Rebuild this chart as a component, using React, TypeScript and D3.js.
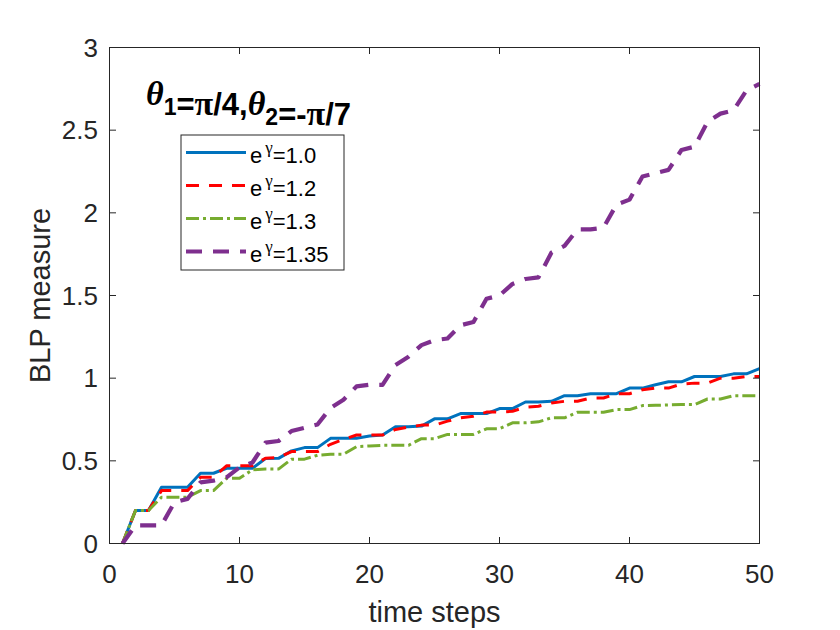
import { useEffect, useRef } from 'react'
import * as d3 from 'd3'

// time steps 1..50
const steps = d3.range(1, 51)

const seriesNames = ['1.0', '1.2', '1.3', '1.35']

const blp10 = [0, 0.2, 0.2, 0.34, 0.34, 0.34, 0.425, 0.425, 0.455, 0.455, 0.455, 0.514, 0.515, 0.56, 0.58, 0.58, 0.636, 0.636, 0.636, 0.65, 0.656, 0.706, 0.706, 0.71, 0.754, 0.754, 0.786, 0.786, 0.786, 0.816, 0.816, 0.856, 0.856, 0.86, 0.894, 0.894, 0.906, 0.906, 0.906, 0.94, 0.94, 0.96, 0.978, 0.978, 1.01, 1.01, 1.01, 1.026, 1.026, 1.058]
const blp12 = [0, 0.2, 0.2, 0.32, 0.32, 0.32, 0.4, 0.4, 0.47, 0.47, 0.47, 0.516, 0.52, 0.556, 0.556, 0.556, 0.6, 0.63, 0.656, 0.656, 0.656, 0.69, 0.705, 0.716, 0.716, 0.74, 0.76, 0.77, 0.795, 0.795, 0.8, 0.824, 0.83, 0.85, 0.86, 0.86, 0.88, 0.88, 0.906, 0.906, 0.93, 0.94, 0.94, 0.965, 0.97, 0.97, 1.0, 1.0, 1.01, 1.01]
const blp13 = [0, 0.2, 0.2, 0.28, 0.28, 0.28, 0.32, 0.32, 0.394, 0.394, 0.446, 0.45, 0.45, 0.51, 0.51, 0.534, 0.54, 0.54, 0.586, 0.59, 0.594, 0.594, 0.594, 0.634, 0.634, 0.66, 0.66, 0.66, 0.694, 0.694, 0.73, 0.73, 0.736, 0.76, 0.76, 0.794, 0.794, 0.794, 0.81, 0.81, 0.834, 0.836, 0.838, 0.84, 0.84, 0.874, 0.874, 0.894, 0.894, 0.894]
const blp135 = [0, 0.11, 0.11, 0.11, 0.25, 0.27, 0.37, 0.38, 0.4, 0.46, 0.49, 0.61, 0.62, 0.68, 0.7, 0.72, 0.82, 0.87, 0.95, 0.96, 0.96, 1.08, 1.13, 1.2, 1.23, 1.24, 1.32, 1.34, 1.48, 1.5, 1.57, 1.6, 1.61, 1.76, 1.8, 1.9, 1.9, 1.91, 2.05, 2.08, 2.22, 2.24, 2.26, 2.38, 2.4, 2.55, 2.6, 2.62, 2.74, 2.78]

const xTicks = [0, 10, 20, 30, 40, 50]
const yTicks = [0, 0.5, 1, 1.5, 2, 2.5, 3]

const axisColor = '#262626'
const font = 'Arial, "Liberation Sans", Helvetica, sans-serif'
const serif = '"Liberation Serif", "Times New Roman", serif'

export default function App() {
  const svgRef = useRef<SVGSVGElement>(null)

  useEffect(() => {
    if (!svgRef.current) return
    const svg = d3.select(svgRef.current)
    svg.selectAll('*').remove()

    const left = 109.5, right = 759.5, top = 47.5, bottom = 543.5

    const x = d3.scaleLinear().domain([0, 50]).range([left, right])
    const y = d3.scaleLinear().domain([0, 3]).range([bottom, top])

    svg.append('rect').attr('width', 840).attr('height', 630).attr('fill', 'white')

    // lines
    const styles = [
      { data: blp10, color: '#0072BD', width: 3, dash: null },
      { data: blp12, color: '#FF0000', width: 3, dash: '13,10' },
      { data: blp13, color: '#77AC30', width: 3, dash: '13,4,3,4' },
      { data: blp135, color: '#7E2F8E', width: 4.2, dash: '16,11' }
    ]

    const line = d3.line<number>()
      .x((_, i) => x(steps[i]))
      .y(d => y(d))

    const plot = svg.append('g')
    styles.forEach(s => {
      plot.append('path')
        .datum(s.data)
        .attr('d', line)
        .attr('fill', 'none')
        .attr('stroke', s.color)
        .attr('stroke-width', s.width)
        .attr('stroke-dasharray', s.dash)
        .attr('stroke-linejoin', 'round')
    })

    // axes box + inward ticks
    const ax = svg.append('g').attr('stroke', axisColor).attr('stroke-width', 1).attr('fill', 'none')
    ax.append('rect')
      .attr('x', left).attr('y', top)
      .attr('width', right - left).attr('height', bottom - top)
    const tl = 6.5
    xTicks.forEach(t => {
      ax.append('line').attr('x1', x(t)).attr('x2', x(t)).attr('y1', bottom).attr('y2', bottom - tl)
      ax.append('line').attr('x1', x(t)).attr('x2', x(t)).attr('y1', top).attr('y2', top + tl)
    })
    yTicks.forEach(t => {
      ax.append('line').attr('x1', left).attr('x2', left + tl).attr('y1', y(t)).attr('y2', y(t))
      ax.append('line').attr('x1', right).attr('x2', right - tl).attr('y1', y(t)).attr('y2', y(t))
    })

    // tick labels
    svg.append('g')
      .selectAll('text')
      .data(xTicks)
      .enter().append('text')
      .attr('x', d => x(d))
      .attr('y', 583)
      .attr('text-anchor', 'middle')
      .attr('fill', axisColor)
      .style('font-family', font)
      .style('font-size', '26px')
      .text(d => d)

    svg.append('g')
      .selectAll('text')
      .data(yTicks)
      .enter().append('text')
      .attr('x', 98)
      .attr('y', d => y(d) + 9)
      .attr('text-anchor', 'end')
      .attr('fill', axisColor)
      .style('font-family', font)
      .style('font-size', '26px')
      .text(d => d)

    // axis labels
    svg.append('text')
      .attr('x', x(25))
      .attr('y', 622)
      .attr('text-anchor', 'middle')
      .attr('fill', axisColor)
      .style('font-family', font)
      .style('font-size', '29px')
      .text('time steps')

    svg.append('text')
      .attr('transform', `translate(50, ${(top + bottom) / 2}) rotate(-90)`)
      .attr('text-anchor', 'middle')
      .attr('fill', axisColor)
      .style('font-family', font)
      .style('font-size', '29px')
      .text('BLP measure')

    // title annotation
    const title = svg.append('text')
      .attr('x', 146)
      .attr('y', 105)
      .attr('fill', 'black')
      .style('font-family', font)
      .style('font-size', '31px')
      .style('font-weight', 'bold')
    const sym = (s: string, italic: boolean) => title.append('tspan')
      .style('font-family', serif)
      .style('font-style', italic ? 'italic' : 'normal')
      .style('font-size', '34px')
      .text(s)
    const sub = (s: string) => {
      title.append('tspan').attr('dy', 10).style('font-size', '23px').text(s)
      title.append('tspan').attr('dy', -10).text('')
    }
    sym('θ', true); sub('1')
    title.append('tspan').text('=')
    sym('π', false)
    title.append('tspan').text('/4,')
    sym('θ', true); sub('2')
    title.append('tspan').text('=-')
    sym('π', false)
    title.append('tspan').text('/7')

    // legend
    const lg = svg.append('g').attr('transform', 'translate(181, 135)')
    lg.append('rect')
      .attr('width', 163).attr('height', 135)
      .attr('fill', 'white')
      .attr('stroke', axisColor).attr('stroke-width', 1)
    styles.forEach((s, i) => {
      const cy = 17.5 + i * 33
      lg.append('line')
        .attr('x1', 5).attr('x2', 65)
        .attr('y1', cy).attr('y2', cy)
        .attr('stroke', s.color)
        .attr('stroke-width', s.width)
        .attr('stroke-dasharray', s.dash)
      const t = lg.append('text')
        .attr('x', 69)
        .attr('y', cy + 10)
        .attr('fill', 'black')
        .style('font-family', font)
        .style('font-size', '22px')
      t.append('tspan').text('e')
      t.append('tspan')
        .attr('dy', -10)
        .attr('dx', 3)
        .style('font-size', '17px')
        .style('font-family', serif)
        .text('γ')
      t.append('tspan').attr('dy', 10).text('=' + seriesNames[i])
    })
  }, [])

  return (
    <svg
      ref={svgRef}
      width={840}
      height={630}
      style={{ position: 'absolute', left: 0, top: 0 }}
    />
  )
}
